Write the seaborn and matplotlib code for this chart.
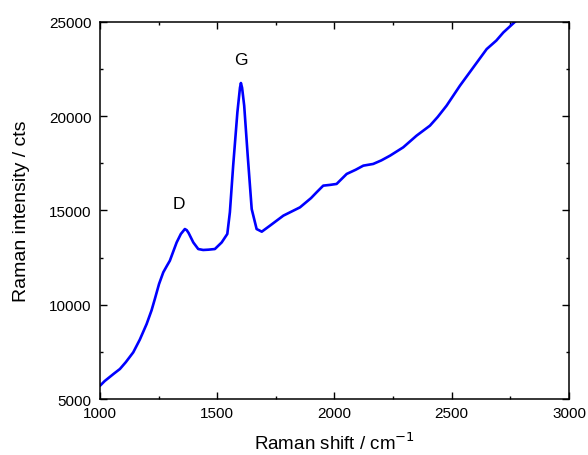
import seaborn as sns
import matplotlib.pyplot as plt
import pandas as pd

# Raman spectrum
shift = [1000, 1020, 1040, 1060, 1085, 1110, 1142, 1170, 1199, 1220, 1234, 1252,
         1270, 1285, 1298, 1312, 1327, 1345, 1362, 1370, 1378, 1390, 1398,
         1419, 1440, 1462, 1490, 1519, 1543, 1554, 1568, 1586, 1597, 1601,
         1606, 1615, 1630, 1647, 1668, 1690, 1725, 1782, 1853, 1900, 1924,
         1952, 1981, 2009, 2052, 2090, 2123, 2165, 2200, 2237, 2293, 2350,
         2407, 2440, 2478, 2535, 2592, 2649, 2690, 2720, 2770, 2800]
intensity = [5700, 5950, 6150, 6350, 6590, 6950, 7475, 8150, 8975, 9700,
             10300, 11100, 11716, 12050, 12330, 12800, 13300, 13750, 14010,
             13950, 13800, 13500, 13300, 12950, 12900, 12915, 12950, 13300,
             13750, 14900, 17370, 20200, 21500, 21750, 21500, 20550, 17900,
             15070, 14010, 13870, 14190, 14720, 15160, 15650, 15960, 16310,
             16350, 16400, 16930, 17150, 17370, 17460, 17650, 17900, 18340,
             18960, 19490, 19950, 20550, 21610, 22580, 23550, 24000, 24430,
             25000, 25300]

peak_labels = ["D", "G"]
peak_x = [1337, 1601]
peak_y = [15340, 23020]

df = pd.DataFrame({"shift": shift, "intensity": intensity})

sns.set_style("ticks")
plt.rcParams["font.family"] = ["Liberation Sans", "DejaVu Sans"]
plt.rcParams["text.color"] = "black"
plt.rcParams["axes.labelcolor"] = "black"
plt.rcParams["xtick.color"] = "black"
plt.rcParams["ytick.color"] = "black"

fig = plt.figure(figsize=(5.88, 4.56), dpi=100)
ax = fig.add_axes([0.170, 0.1228, 0.7977, 0.8274])

sns.lineplot(data=df, x="shift", y="intensity", color="#0000ff", linewidth=1.9, ax=ax)

for lab, px, py in zip(peak_labels, peak_x, peak_y):
    ax.text(px, py, lab, fontsize=12.5, ha="center", va="center", color="black")

ax.set_xlim(1000, 3000)
ax.set_ylim(5000, 25000)
ax.set_xticks([1000, 1500, 2000, 2500, 3000])
ax.set_yticks([5000, 10000, 15000, 20000, 25000])
ax.set_xticks([1250, 1750, 2250, 2750], minor=True)
ax.set_yticks([7500, 12500, 17500, 22500], minor=True)

ax.tick_params(which="both", direction="in", top=True, right=True, width=1.0,
               labelsize=11)
ax.tick_params(which="major", length=5)
ax.tick_params(which="minor", length=2.5)
ax.tick_params(axis="y", pad=6)
ax.tick_params(axis="x", pad=5)
for sp in ax.spines.values():
    sp.set_linewidth(1.1)
    sp.set_color("black")

ax.set_xlabel("Raman shift / cm$^{-1}$", fontsize=13.5, labelpad=8)
ax.set_ylabel("Raman intensity / cts", fontsize=14, labelpad=14)

plt.savefig("out.png", dpi=100)
